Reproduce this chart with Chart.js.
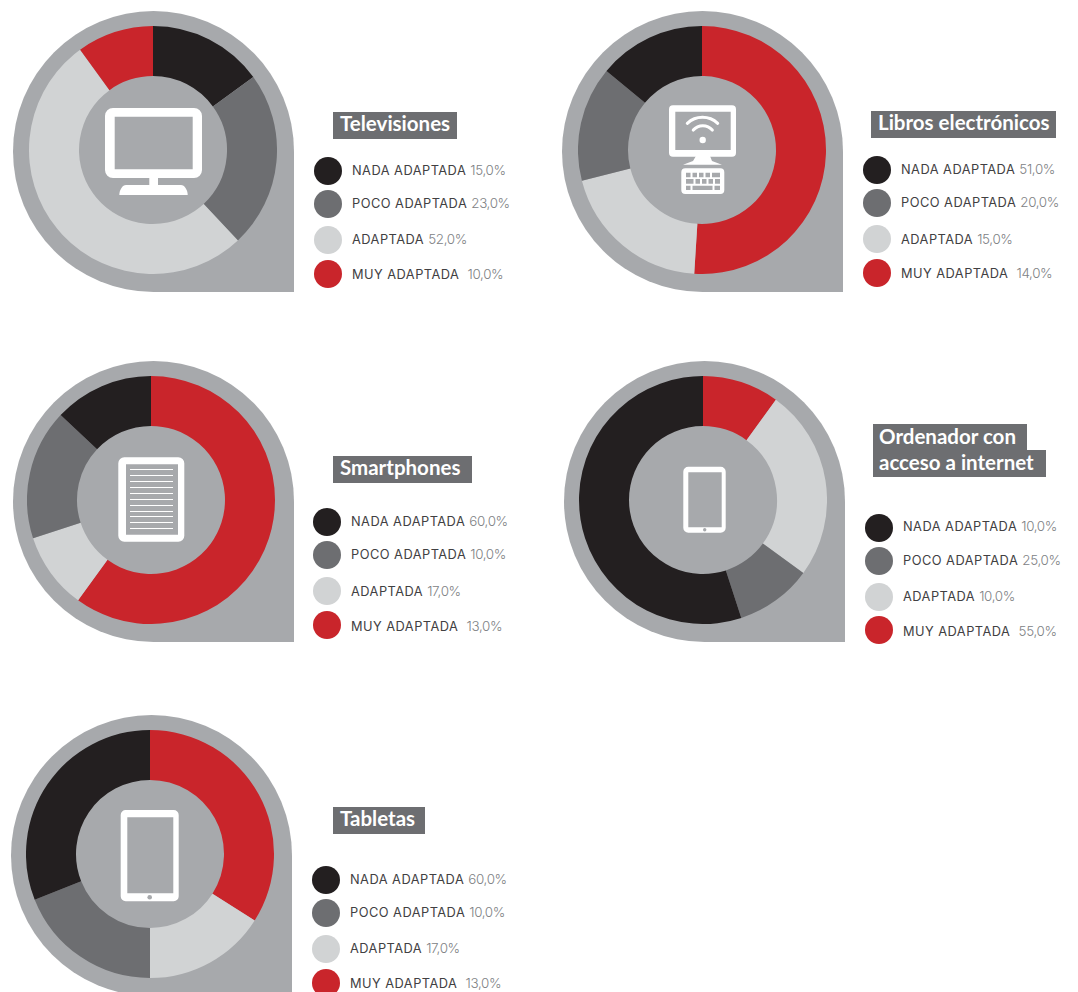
<!DOCTYPE html>
<html><head><meta charset="utf-8">
<script src="https://cdn.jsdelivr.net/npm/chart.js@4"></script>
<style>
html,body{margin:0;padding:0;background:#fff;width:1078px;height:992px;overflow:hidden}
#page{position:relative;width:1078px;height:992px;overflow:hidden}
.drop{position:absolute;width:281px;height:281px;background:#a7a9ac;border-radius:140.5px 140.5px 0 140.5px}
canvas{position:absolute}
.title{position:absolute;background:#6d6e71;color:#fff;font:700 20.5px/23px Lato,sans-serif;white-space:nowrap;box-sizing:border-box;padding-left:7px}
.title.two{padding-left:6px;line-height:25px}
.sw{position:absolute;width:28px;height:28px;border-radius:50%}
.lab{position:absolute;font:400 12.8px/16px Inter,sans-serif;color:#414042;white-space:pre;letter-spacing:.48px}
.lab span{font-weight:300;font-size:13.4px;color:#808285;letter-spacing:-.35px}
#icons{position:absolute;left:0;top:0}
</style></head><body>
<div id="page"></div>
<svg id="icons" width="1078" height="992" viewBox="0 0 1078 992">
 <g fill="#fff">
  <!-- TV -->
  <path fill-rule="evenodd" d="M113 108h81a8 8 0 0 1 8 8v54a8 8 0 0 1-8 8h-81a8 8 0 0 1-8-8v-54a8 8 0 0 1 8-8zM114.700 116.700v52.600h78v-52.600z"/>
  <rect x="149.300" y="177" width="8.700" height="9"/>
  <path d="M126 185h55c3.500 0 6.700 5 6.700 10h-68.400c0-5 3.200-10 6.700-10z"/>
  <!-- e-reader monitor + wifi + keyboard -->
  <path fill-rule="evenodd" d="M673 105.300h59a4 4 0 0 1 4 4v43.400a4 4 0 0 1-4 4h-59a4 4 0 0 1-4-4v-43.400a4 4 0 0 1 4-4zM675.300 111.700v38.300h55.400v-38.300z"/>
  <path d="M696 156h14l2 5 10 3.800h-39l10-3.800z"/>
  <path fill-rule="evenodd" d="M685.300 168.300h35a4 4 0 0 1 4 4v17.700a4 4 0 0 1-4 4h-35a4 4 0 0 1-4-4v-17.700a4 4 0 0 1 4-4zM686 172.700v4.600h4.500v-4.600zM692.500 172.700v4.600h4.500v-4.600zM699 172.700v4.600h4.500v-4.600zM705.500 172.700v4.600h4.500v-4.600zM712 172.700v4.600h8v-4.600zM686 179v4.700h7.500v-4.700zM695.500 179v4.700h4.500v-4.700zM702 179v4.700h4.500v-4.700zM708.500 179v4.700h4.500v-4.700zM715 179v4.700h5v-4.700zM686 185.700v4.300h4.500v-4.300zM692.500 185.700v4.300h20v-4.300zM714.500 185.700v4.300h5.500v-4.300z"/>
  <circle cx="702.700" cy="140" r="3.200"/>
  <!-- smartphones: e-book -->
  <path fill-rule="evenodd" d="M124.300 457.300h54a6 6 0 0 1 6 6v72.400a6 6 0 0 1-6 6h-54a6 6 0 0 1-6-6v-72.400a6 6 0 0 1 6-6zM126 464.300v70.400h52v-70.400z"/>
  <g id="rows"></g>
  <!-- ordenador: tablet -->
  <path fill-rule="evenodd" d="M688.300 466.700h32.400a5 5 0 0 1 5 5v56a5 5 0 0 1-5 5h-32.400a5 5 0 0 1-5-5v-56a5 5 0 0 1 5-5zM688.300 472.300v55h33.400v-55z"/>
  <!-- tabletas: tablet -->
  <path fill-rule="evenodd" d="M125.700 810h48a5 5 0 0 1 5 5v81.300a5 5 0 0 1-5 5h-48a5 5 0 0 1-5-5v-81.300a5 5 0 0 1 5-5zM127.300 817.300v76h46v-76z"/>
 </g>
 <path d="M687.300 123.300a22.300 22.300 0 0 1 30.400 0M693.300 130a12.600 12.600 0 0 1 19 0" fill="none" stroke="#fff" stroke-width="3.100" stroke-linecap="round"/>
 <circle cx="704.700" cy="529.700" r="1.700" fill="#a7a9ac"/>
 <circle cx="149.700" cy="897.300" r="2.300" fill="#a7a9ac"/>
</svg>
<script>
// Slice values, clockwise from 12 o'clock, as drawn in each ring
const televisionesValues = [15, 23, 52, 10];
const librosValues       = [51, 20, 15, 14];
const smartphonesValues  = [60, 10, 17, 13];
const ordenadorValues    = [10, 25, 10, 55];
const tabletasValues     = [34, 16, 19, 31];

// Colour order of each ring's slices
const BLACK = '#231f20', DARK = '#6d6e71', LIGHT = '#d1d3d4', RED = '#c9252b';
const forwardColors = [BLACK, DARK, LIGHT, RED];
const reverseColors = [RED, LIGHT, DARK, BLACK];

// Legend text
const categories = ['NADA ADAPTADA', 'POCO ADAPTADA', 'ADAPTADA', 'MUY ADAPTADA'];
const televisionesLegend = ['15,0%', '23,0%', '52,0%', '10,0%'];
const librosLegend       = ['51,0%', '20,0%', '15,0%', '14,0%'];
const smartphonesLegend  = ['60,0%', '10,0%', '17,0%', '13,0%'];
const ordenadorLegend    = ['10,0%', '25,0%', '10,0%', '55,0%'];
const tabletasLegend     = ['60,0%', '10,0%', '17,0%', '13,0%'];

const panels = [
 {lines:['Televisiones'], values:televisionesValues, colors:forwardColors, legend:televisionesLegend,
  drop:[13,11], ring:[28.5,25.5], sw:[314,[157,190,226,260]], textX:352, textY:[169,202,238,273], box:[[333,112,124]]},
 {lines:['Libros electrónicos'], values:librosValues, colors:reverseColors, legend:librosLegend,
  drop:[562,11], ring:[577.5,25.5], sw:[863,[156,189,225,259]], textX:901, textY:[168,201,238,272], box:[[871,111,185]]},
 {lines:['Smartphones'], values:smartphonesValues, colors:reverseColors, legend:smartphonesLegend,
  drop:[13,361], ring:[27,376], sw:[313,[508,541,577,611]], textX:351, textY:[520,553,590,625], box:[[333,456,139]]},
 {lines:['Ordenador con','acceso a internet'], values:ordenadorValues, colors:reverseColors, legend:ordenadorLegend,
  drop:[564,361], ring:[579,376], sw:[865,[514,547,583,616]], textX:903, textY:[525,559,595,630], box:[[873,424,154],[873,450,173]]},
 {lines:['Tabletas'], values:tabletasValues, colors:reverseColors, legend:tabletasLegend,
  drop:[11,715], ring:[26,730], sw:[312,[866,899,935,969]], textX:350, textY:[878,911,947,982], box:[[333,807,92]]}
];

const page = document.getElementById('page');
function add(cls, x, y){
  const d = document.createElement('div');
  d.className = cls; d.style.left = x + 'px'; d.style.top = y + 'px';
  page.appendChild(d); return d;
}
panels.forEach(p => {
  add('drop', p.drop[0], p.drop[1]);
  const c = document.createElement('canvas');
  c.width = 248; c.height = 248;
  c.style.cssText = `left:${p.ring[0]}px;top:${p.ring[1]}px;width:248px;height:248px`;
  page.appendChild(c);
  new Chart(c, {
    type:'doughnut',
    data:{labels:categories, datasets:[{data:p.values, backgroundColor:p.colors, borderWidth:0}]},
    options:{responsive:false, animation:false, cutout:74, layout:{padding:0},
      plugins:{legend:{display:false}, tooltip:{enabled:false}}}
  });
  p.lines.forEach((t,i) => {
    const b = add('title' + (p.lines.length>1 ? ' two' : ''), p.box[i][0], p.box[i][1]);
    b.style.width = p.box[i][2] + 'px';
    b.style.height = (p.lines.length>1?(i?27:26):27) + 'px';
    b.textContent = t;
  });
  categories.forEach((cat,i) => {
    const s = add('sw', p.sw[0], p.sw[1][i]);
    s.style.background = forwardColors[i];
    const l = add('lab', p.textX, p.textY[i] - 7);
    l.textContent = cat + (i===3 ? '  ' : ' ');
    const sp = document.createElement('span');
    sp.textContent = p.legend[i];
    l.appendChild(sp);
  });
});
// reading lines of the e-book icon
const rowYs = [469,475,481,487,493,499,505,511,516,522,528];
const rows = document.getElementById('rows');
rowYs.forEach(y => {
  const r = document.createElementNS('http://www.w3.org/2000/svg','rect');
  r.setAttribute('x',130); r.setAttribute('y',y); r.setAttribute('width',43); r.setAttribute('height',1);
  rows.appendChild(r);
});
</script>
</body></html>
